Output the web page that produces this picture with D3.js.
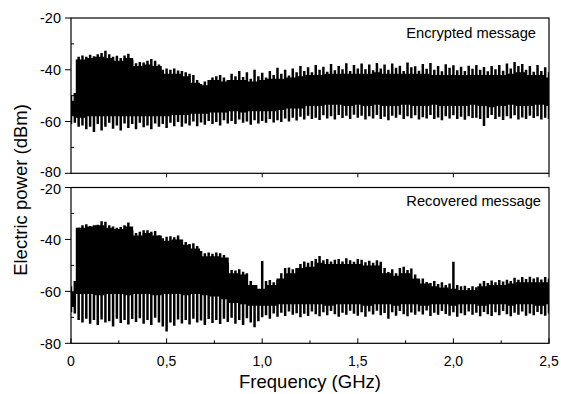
<!DOCTYPE html>
<html>
<head>
<meta charset="utf-8">
<script src="https://cdn.jsdelivr.net/npm/d3@7/dist/d3.min.js"></script>
<style>
  body { margin: 0; background: #fff; }
  svg { display: block; font-family: Arial, "Liberation Sans", sans-serif; }
</style>
</head>
<body>
<div id="chart"></div>
<script>
// frequency spacing of the spike samples and of the solid band samples (GHz)
const spikeStep = 0.02;
const bandStep = 0.05;

const xTicks = [0, 0.5, 1.0, 1.5, 2.0, 2.5];
const xTickLabels = ['0', '0,5', '1,0', '1,5', '2,0', '2,5'];
const yTicks = [-20, -40, -60, -80];

// Encrypted message: spike tops / bottoms every 0.02 GHz (dBm)
const encSpikeHigh = [
  -50, -49, -35, -34.5, -35, -34.2, -34.8, -34, -33.5, -32.7,
  -34, -35, -34.6, -35.5, -34.5, -33.8, -36, -37.5, -37, -37.2,
  -36.5, -35.8, -36.5, -38, -40, -39.5, -40, -39.5, -40.3, -40.5,
  -41, -41.5, -42, -44, -45.5, -44.5, -44, -43, -42.5, -42,
  -43, -44, -41.5, -42.5, -40.5, -42.8, -41, -43.5, -40, -42.5,
  -41.2, -43, -40.5, -42, -39.2, -41.5, -40, -42.2, -39.5, -41,
  -38.5, -40.5, -39, -41, -38.2, -40, -38.8, -40.8, -37.8, -40.2,
  -38.5, -39.8, -37.5, -40.5, -38.2, -39.5, -37.6, -39.8, -38, -40.2,
  -37.4, -39.5, -38, -40, -37.6, -39.2, -38.4, -40.5, -37.2, -39,
  -38.6, -40.4, -37.8, -39.6, -37.4, -40, -38.5, -40.6, -37.9, -39.2,
  -38.3, -40.2, -38.8, -40.5, -38.4, -39.6, -38.2, -40, -38.9, -40.6,
  -38.5, -39.8, -38.2, -40.4, -37.6, -39.5, -37, -38.5, -37.8, -40,
  -38.5, -40.8, -38.2, -40.5, -39, -41
];
const encSpikeLow = [
  -61, -60.5, -62, -61.5, -63, -62, -64, -61, -63.5, -62,
  -60.5, -62.8, -61.5, -63.5, -60.8, -62.5, -61, -63, -60.5, -62.2,
  -61.5, -63, -60.8, -62, -61, -62.5, -60.5, -61.8, -60.2, -62,
  -60.8, -61.5, -60, -61.8, -60.4, -61.2, -59.8, -61, -60.2, -61.5,
  -59.5, -60.8, -59.8, -61, -59.2, -60.5, -60, -61.2, -59.5, -60.8,
  -59.8, -60.5, -59, -60.4, -59.5, -60.2, -58.8, -60, -58.5, -59.6,
  -58.2, -59.2, -57.8, -59, -58.5, -59.4, -57.6, -58.8, -58, -59.2,
  -57.5, -58.6, -57.8, -59, -57.4, -58.5, -57.8, -59.2, -58, -58.8,
  -57.5, -59, -58.2, -59.5, -57.8, -58.5, -57.4, -59, -58, -58.7,
  -57.6, -59.2, -58.3, -58.8, -57.5, -59, -58.4, -59.5, -58, -58.8,
  -57.6, -59, -58.2, -59.3, -58, -58.6, -58.5, -59, -61.7, -58.6,
  -57.5, -59, -58.2, -59.4, -58, -58.8, -57.6, -59.2, -58.4, -59,
  -57.8, -58.6, -58, -59.2, -58.5, -59
];
// Encrypted message: solid band every 0.05 GHz
const encBandHigh = [
  -52, -36, -35.5, -35, -35.5, -36.5, -35.5, -38.5, -38, -38.5,
  -41.5, -41.5, -42.5, -45, -46, -44, -44.5, -44, -44, -44.5,
  -44, -43.5, -43.5, -43, -42.5, -42, -42, -41.5, -41.5, -41.5,
  -41.5, -41.5, -41, -41.5, -41.5, -41.5, -41.5, -41.5, -42, -42,
  -42, -42, -42, -42, -42, -42, -41.5, -41, -42, -42, -43
];
const encBandLow = [
  -58, -58.5, -58, -58, -58, -58, -58, -58, -58, -58,
  -58, -57.5, -57.5, -57, -57, -56.5, -56.5, -56, -56.5, -56,
  -56, -56, -55.5, -55, -55, -54, -54, -53.5, -53.5, -54,
  -53.5, -54, -53.5, -54, -54, -53.5, -54, -54, -53.5, -54,
  -54, -54, -53.5, -54, -54.5, -54, -53.5, -54, -54, -53.5, -54
];

// Recovered message: spike tops / bottoms every 0.02 GHz (dBm)
const recSpikeHigh = [
  -58, -56, -35.5, -34.5, -34.2, -34.8, -34.5, -34.3, -33, -33.2,
  -34.5, -35, -35.5, -35.2, -34.5, -33.5, -36.5, -37.5, -37, -36.5,
  -36.5, -37, -36.8, -38.5, -39.5, -39, -38.8, -39.2, -38.5, -40,
  -41, -41.8, -41.5, -42.5, -44.5, -45.3, -45, -45.5, -45, -45.3,
  -46, -49, -51.8, -52, -51.5, -52.4, -53, -56, -58.5, -60.5,
  -48.3, -56, -55.6, -56.5, -55.5, -53, -51, -50.8, -51.5, -51,
  -49.5, -48.5, -49, -48.3, -47.5, -46.4, -48, -47.5, -48.5, -47.8,
  -47.5, -48.5, -47.2, -48, -48.6, -47.5, -47.8, -48.8, -48.2, -49,
  -48, -48.6, -51, -52.5, -51.5, -53, -51, -50.5, -51.8, -51.2,
  -53.5, -55.6, -55, -56.4, -56.8, -56, -57.2, -56.5, -57.5, -57,
  -48.6, -57.5, -58, -57.8, -58.7, -58, -58.4, -57, -56, -56.8,
  -55.8, -56.5, -55.6, -56.2, -55.5, -56, -54.8, -55.5, -54.5, -55.2,
  -54.4, -55, -54.6, -55.4, -54.5, -55
];
const recSpikeLow = [
  -68, -68.5, -71, -72, -70.5, -72.5, -71, -73, -70.8, -72,
  -71.5, -73.5, -70.5, -72.2, -71, -72.8, -70.6, -71.8, -70.4, -72.5,
  -71, -73, -70.2, -72, -73.5, -75.5, -72, -73.2, -70.8, -72.4,
  -71, -72.8, -70.5, -72, -71.2, -73, -70.6, -72.2, -71, -72.6,
  -70.5, -71.8, -70.2, -72.5, -71, -73, -70.4, -72, -73.8, -71.5,
  -70, -69.2, -70.5, -68.5, -69.8, -68.2, -69.5, -67.8, -69, -68.4,
  -70, -68.6, -69.5, -67.8, -68.8, -69.6, -68, -69.2, -67.6, -68.8,
  -69.8, -68.2, -69, -67.5, -68.6, -69.4, -68, -69.8, -67.8, -68.9,
  -67.5, -69.2, -68.3, -70.5, -68, -69.4, -67.6, -68.8, -69.6, -68.1,
  -69, -67.8, -68.9, -67.4, -69.5, -68.2, -69, -67.6, -68.7, -69.4,
  -68, -69.8, -68.4, -69.2, -67.8, -69, -68.2, -69.6, -67.9, -68.8,
  -69.5, -68, -69.2, -67.6, -68.8, -69.6, -68.2, -69, -67.8, -69.4,
  -68.5, -69.2, -67.9, -68.8, -69.4, -68.5
];
// Recovered message: solid band every 0.05 GHz
const recBandHigh = [
  -60, -35.5, -35, -34.5, -35.5, -36, -35, -38.5, -37.5, -38.5,
  -40.5, -40, -42, -43.5, -46.5, -46.5, -47, -53, -53.5, -57.5,
  -59, -57.5, -55, -53, -51, -50.5, -49, -49.5, -49.5, -49.5,
  -49.5, -50, -50, -53, -54, -53, -55, -57, -58, -58.5,
  -59, -59.5, -59.5, -58, -57.5, -57.5, -57, -56.5, -56.5, -56.5, -56.5
];
const recBandLow = [
  -66, -61, -61, -61.5, -61, -61, -61.5, -61, -61, -61.5,
  -61, -61, -61.5, -61, -61.5, -62, -63, -64.5, -65, -65.5,
  -65.5, -65.5, -65, -65, -65, -65, -65, -65.5, -65, -65,
  -65, -65.5, -65, -65, -65.5, -65, -65, -65.5, -65, -65,
  -65.5, -65, -65, -65.5, -65, -65, -65.5, -65, -65, -65.5, -65
];

const width = 561;
const height = 394;

const svg = d3.select('#chart')
    .append('svg')
    .attr('width', width)
    .attr('height', height);

const x = d3.scaleLinear()
    .domain([0, 2.5])
    .range([71, 549]);

function drawPanel(top, bottom, spikeHigh, spikeLow, bandHigh, bandLow, label, labelX, labelY, isLast, clipId) {
  const y = d3.scaleLinear()
      .domain([-80, -20])
      .range([bottom, top]);

  const g = svg.append('g');

  g.append('clipPath')
      .attr('id', clipId)
      .append('rect')
      .attr('x', x(0))
      .attr('y', top)
      .attr('width', x(2.5) - x(0))
      .attr('height', bottom - top);

  const data = g.append('g').attr('clip-path', `url(#${clipId})`);

  // solid band of the trace
  const area = d3.area()
      .curve(d3.curveStep)
      .x((d, i) => x(i * bandStep))
      .y0(d => y(d[1]))
      .y1(d => y(d[0]));

  data.append('path')
      .datum(bandHigh.map((v, i) => [v, bandLow[i]]))
      .attr('d', area)
      .attr('fill', '#000');

  // fast oscillations: one vertical stroke per sample
  data.selectAll('line.spike')
      .data(spikeHigh.map((v, i) => ({f: i * spikeStep, hi: v, lo: spikeLow[i]})))
      .join('line')
      .attr('class', 'spike')
      .attr('x1', d => x(d.f))
      .attr('x2', d => x(d.f))
      .attr('y1', d => y(d.hi))
      .attr('y2', d => y(d.lo))
      .attr('stroke', '#000')
      .attr('stroke-width', 2.5);

  // frame
  g.append('rect')
      .attr('x', x(0))
      .attr('y', top)
      .attr('width', x(2.5) - x(0))
      .attr('height', bottom - top)
      .attr('fill', 'none')
      .attr('stroke', '#000')
      .attr('stroke-width', 1.2);

  // y ticks: majors outside, minors inside
  g.selectAll('line.ymajor')
      .data(yTicks)
      .join('line')
      .attr('class', 'ymajor')
      .attr('x1', x(0) - 6)
      .attr('x2', x(0))
      .attr('y1', d => y(d))
      .attr('y2', d => y(d))
      .attr('stroke', '#000');

  g.selectAll('line.yminor')
      .data([-30, -50, -70])
      .join('line')
      .attr('class', 'yminor')
      .attr('x1', x(0))
      .attr('x2', x(0) + 3)
      .attr('y1', d => y(d))
      .attr('y2', d => y(d))
      .attr('stroke', '#000');

  // the -80 of the upper panel and the -20 of the lower one sit close: nudge them apart a little
  g.selectAll('text.ylab')
      .data(yTicks)
      .join('text')
      .attr('class', 'ylab')
      .attr('x', 61)
      .attr('y', d => y(d) + (d === -80 && !isLast ? -1.3 : 0) + (d === -20 && isLast ? 1.3 : 0))
      .attr('dy', '0.36em')
      .attr('text-anchor', 'end')
      .style('font-size', '14.5px')
      .text(d => d);

  // x ticks
  if (isLast) {
    g.selectAll('line.xmajor')
        .data(xTicks)
        .join('line')
        .attr('class', 'xmajor')
        .attr('x1', d => x(d))
        .attr('x2', d => x(d))
        .attr('y1', bottom)
        .attr('y2', bottom - 5)
        .attr('stroke', '#000');
    g.selectAll('line.xminor')
        .data([0.25, 0.75, 1.25, 1.75, 2.25])
        .join('line')
        .attr('class', 'xminor')
        .attr('x1', d => x(d))
        .attr('x2', d => x(d))
        .attr('y1', bottom)
        .attr('y2', bottom - 3)
        .attr('stroke', '#000');
  } else {
    g.selectAll('line.xmajor')
        .data(xTicks.slice(1))
        .join('line')
        .attr('class', 'xmajor')
        .attr('x1', d => x(d))
        .attr('x2', d => x(d))
        .attr('y1', bottom)
        .attr('y2', bottom + 4)
        .attr('stroke', '#000');
  }

  g.append('text')
      .attr('x', labelX)
      .attr('y', labelY)
      .attr('text-anchor', 'end')
      .style('font-size', '14.7px')
      .text(label);
}

drawPanel(18, 173.3, encSpikeHigh, encSpikeLow, encBandHigh, encBandLow,
    'Encrypted message', 536, 38, false, 'clipTop');
drawPanel(187.5, 343.3, recSpikeHigh, recSpikeLow, recBandHigh, recBandLow,
    'Recovered message', 541, 206, true, 'clipBottom');

// x tick labels
svg.selectAll('text.xlab')
    .data(xTicks)
    .join('text')
    .attr('class', 'xlab')
    .attr('x', d => x(d))
    .attr('y', 366)
    .attr('text-anchor', 'middle')
    .style('font-size', '14px')
    .text((d, i) => xTickLabels[i]);

// axis titles
svg.append('text')
    .attr('x', 310)
    .attr('y', 388)
    .attr('text-anchor', 'middle')
    .style('font-size', '18.5px')
    .text('Frequency (GHz)');

svg.append('text')
    .attr('transform', 'translate(27, 190) rotate(-90)')
    .attr('text-anchor', 'middle')
    .style('font-size', '18.5px')
    .text('Electric power (dBm)');
</script>
</body>
</html>
